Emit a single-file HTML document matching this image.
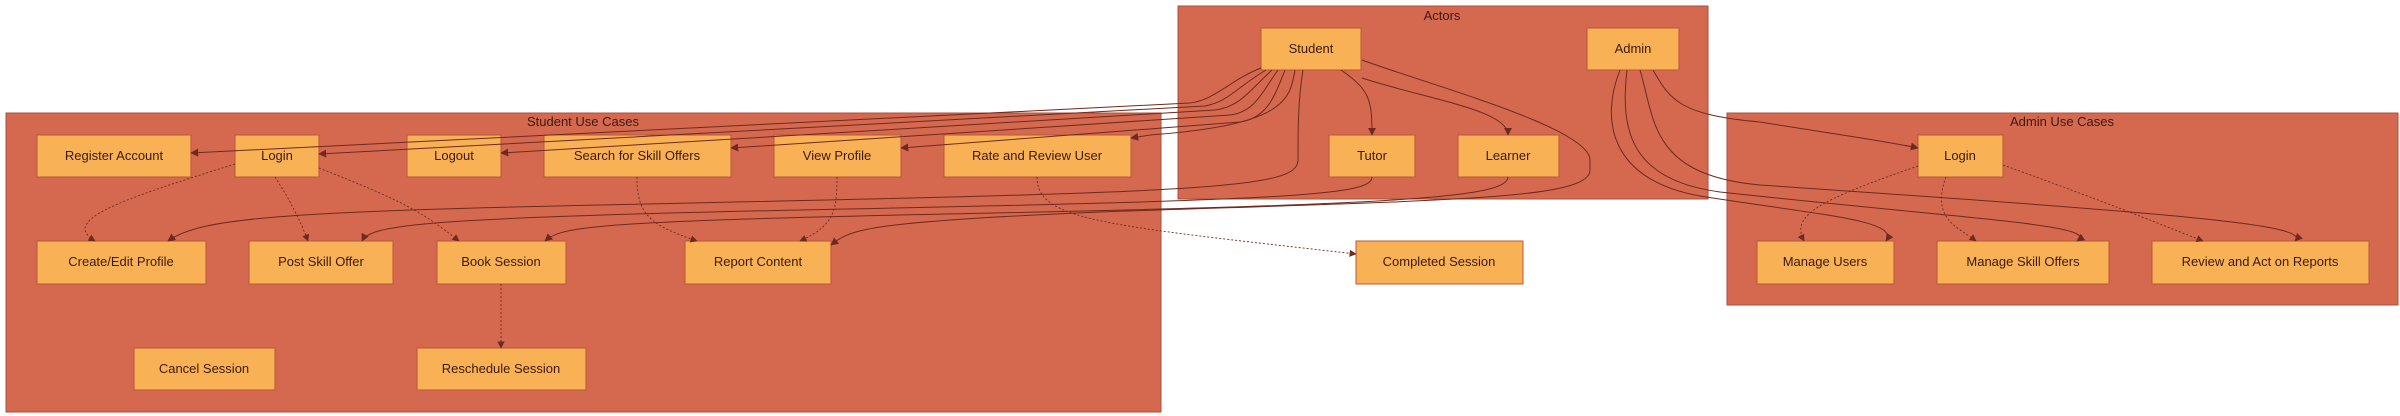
<!DOCTYPE html>
<html><head><meta charset="utf-8"><style>
html,body{margin:0;padding:0;background:#fff;}
svg{display:block;}
text{font-family:"Liberation Sans","DejaVu Sans",sans-serif;font-size:13px;fill:#3b1a10;}
.cl{fill:#d4694f;stroke:#a8503c;stroke-width:1;}
.nd{fill:#f8b155;stroke:#b9583a;stroke-width:1;}
.e{fill:none;stroke:#6e2a1e;stroke-width:1;marker-end:url(#ah);}
.d{fill:none;stroke:#6e2a1e;stroke-width:0.9;stroke-dasharray:2 2;marker-end:url(#ah);}
</style></head><body>
<svg width="2400" height="416" viewBox="0 0 2400 416" xmlns="http://www.w3.org/2000/svg">
<defs><marker id="ah" viewBox="0 0 10 10" refX="9" refY="5" markerWidth="8" markerHeight="8" orient="auto"><path d="M0,0L10,5L0,10z" fill="#6e2a1e"/></marker></defs>
<rect class="cl" x="6" y="113" width="1155" height="299"/>
<text x="583" y="126" text-anchor="middle">Student Use Cases</text>
<rect class="cl" x="1178" y="6" width="530" height="193"/>
<text x="1442" y="20" text-anchor="middle">Actors</text>
<rect class="cl" x="1727" y="113" width="671" height="192"/>
<text x="2062" y="126" text-anchor="middle">Admin Use Cases</text>
<g>
<rect class="nd" x="1261" y="28" width="100" height="42"/><text x="1311" y="53" text-anchor="middle">Student</text>
<rect class="nd" x="1587" y="28" width="92" height="42"/><text x="1633" y="53" text-anchor="middle">Admin</text>
<rect class="nd" x="1329" y="135" width="86" height="42"/><text x="1372" y="160" text-anchor="middle">Tutor</text>
<rect class="nd" x="1458" y="135" width="101" height="42"/><text x="1508" y="160" text-anchor="middle">Learner</text>
<rect class="nd" x="37" y="135" width="154" height="42"/><text x="114" y="160" text-anchor="middle">Register Account</text>
<rect class="nd" x="235" y="135" width="84" height="42"/><text x="277" y="160" text-anchor="middle">Login</text>
<rect class="nd" x="407" y="135" width="94" height="42"/><text x="454" y="160" text-anchor="middle">Logout</text>
<rect class="nd" x="544" y="135" width="187" height="42"/><text x="637" y="160" text-anchor="middle">Search for Skill Offers</text>
<rect class="nd" x="774" y="135" width="127" height="42"/><text x="837" y="160" text-anchor="middle">View Profile</text>
<rect class="nd" x="944" y="135" width="187" height="42"/><text x="1037" y="160" text-anchor="middle">Rate and Review User</text>
<rect class="nd" x="37" y="241" width="169" height="43"/><text x="121" y="266" text-anchor="middle">Create/Edit Profile</text>
<rect class="nd" x="249" y="241" width="144" height="43"/><text x="321" y="266" text-anchor="middle">Post Skill Offer</text>
<rect class="nd" x="437" y="241" width="129" height="43"/><text x="501" y="266" text-anchor="middle">Book Session</text>
<rect class="nd" x="685" y="241" width="146" height="43"/><text x="758" y="266" text-anchor="middle">Report Content</text>
<rect class="nd" x="134" y="348" width="141" height="42"/><text x="204" y="373" text-anchor="middle">Cancel Session</text>
<rect class="nd" x="417" y="348" width="169" height="42"/><text x="501" y="373" text-anchor="middle">Reschedule Session</text>
<rect class="nd" x="1356" y="241" width="167" height="43"/><text x="1439" y="266" text-anchor="middle">Completed Session</text>
<rect class="nd" x="1918" y="135" width="85" height="42"/><text x="1960" y="160" text-anchor="middle">Login</text>
<rect class="nd" x="1757" y="241" width="137" height="43"/><text x="1825" y="266" text-anchor="middle">Manage Users</text>
<rect class="nd" x="1937" y="241" width="172" height="43"/><text x="2023" y="266" text-anchor="middle">Manage Skill Offers</text>
<rect class="nd" x="2152" y="241" width="217" height="43"/><text x="2260" y="266" text-anchor="middle">Review and Act on Reports</text>
</g>
<path class="e" d="M1261,68 C1230,80 1215,100 1190,103 L191,153"/>
<path class="e" d="M1266,70 C1240,85 1228,102 1205,106 L319,154"/>
<path class="e" d="M1272,70 C1250,90 1240,107 1215,110 L501,153"/>
<path class="e" d="M1278,70 C1262,92 1255,112 1230,115 L731,148"/>
<path class="e" d="M1285,70 C1275,95 1268,118 1240,122 L901,148"/>
<path class="e" d="M1295,70 C1290,100 1285,125 1150,135 L1131,138"/>
<path class="e" d="M1303,70 C1298,100 1298,130 1298,160 C1298,190 1200,192 600,205 C280,212 200,218 168,241"/>
<path class="e" d="M1341,70 C1370,90 1372,100 1372,135"/>
<path class="e" d="M1362,78 C1430,100 1508,110 1508,135"/>
<path class="e" d="M1372,177 C1372,195 1300,200 800,210 C420,218 370,225 362,241"/>
<path class="e" d="M1508,177 C1508,198 1400,205 900,215 C580,222 560,228 545,241"/>
<path class="e" d="M1362,60 C1430,85 1590,128 1590,160 L1590,170 C1590,200 1450,200 1100,212 C860,222 850,230 831,245"/>
<path class="d" d="M235,164 C120,200 60,220 95,241"/>
<path class="d" d="M275,177 C290,200 300,220 308,241"/>
<path class="d" d="M319,168 C400,200 420,210 459,241"/>
<path class="d" d="M637,177 C637,215 650,225 697,241"/>
<path class="d" d="M837,177 C837,210 835,225 800,241"/>
<path class="d" d="M1037,177 C1037,220 1100,225 1356,254"/>
<path class="d" d="M501,284 L501,348"/>
<path class="e" d="M1653,70 C1670,100 1680,115 1760,122 C1840,135 1880,140 1918,148"/>
<path class="e" d="M1620,70 C1600,120 1610,180 1700,196 C1820,215 1900,220 1886,241"/>
<path class="e" d="M1627,70 C1620,130 1630,180 1720,192 C1980,220 2100,225 2077,241"/>
<path class="e" d="M1640,70 C1655,120 1650,175 1760,185 C2200,215 2310,225 2295,241"/>
<path class="d" d="M1918,166 C1820,200 1790,215 1804,241"/>
<path class="d" d="M1946,177 C1930,220 1960,228 1976,241"/>
<path class="d" d="M2003,165 C2100,200 2150,220 2203,241"/>
</svg>
</body></html>
